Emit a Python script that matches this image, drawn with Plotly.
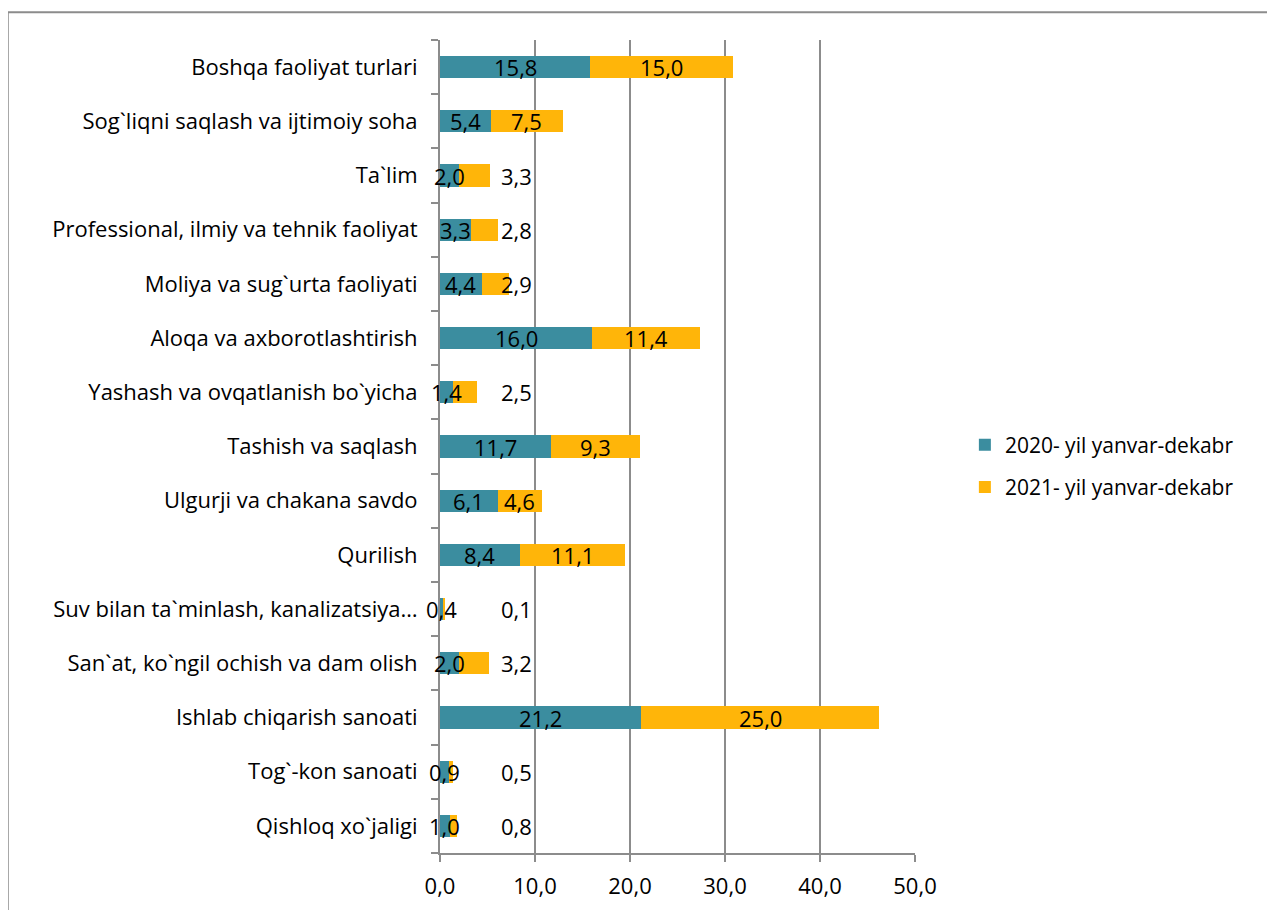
import plotly.graph_objects as go

# sectors, bottom to top as drawn
sectors = [
    "Qishloq xo`jaligi",
    "Tog`-kon sanoati",
    "Ishlab chiqarish sanoati",
    "San`at, ko`ngil ochish va dam olish",
    "Suv bilan ta`minlash, kanalizatsiya…",
    "Qurilish",
    "Ulgurji va chakana savdo",
    "Tashish va saqlash",
    "Yashash va ovqatlanish bo`yicha",
    "Aloqa va axborotlashtirish",
    "Moliya va sug`urta faoliyati",
    "Professional, ilmiy va tehnik faoliyat",
    "Ta`lim",
    "Sog`liqni saqlash va ijtimoiy soha",
    "Boshqa faoliyat turlari",
]
y2020 = [1.0, 0.9, 21.2, 2.0, 0.4, 8.4, 6.1, 11.7, 1.4, 16.0, 4.4, 3.3, 2.0, 5.4, 15.8]
y2021 = [0.8, 0.5, 25.0, 3.2, 0.1, 11.1, 4.6, 9.3, 2.5, 11.4, 2.9, 2.8, 3.3, 7.5, 15.0]

name2020 = "2020- yil yanvar-dekabr"
name2021 = "2021- yil yanvar-dekabr"
teal = "#3b8d9f"
gold = "#ffb509"
grey = "#8c8c8c"
font = "Open Sans, sans-serif"
fsize = 22

fig = go.Figure()
fig.add_trace(go.Bar(y=sectors, x=y2020, name=name2020, orientation="h",
                     marker=dict(color=teal, line=dict(width=0)), legendgroup="a"))
fig.add_trace(go.Bar(y=sectors, x=y2021, name=name2021, orientation="h",
                     marker=dict(color=gold, line=dict(width=0)), legendgroup="b"))

def fmt(v):
    return f"{v:.1f}".replace(".", ",")

# data labels (small 2021 ones pushed out to the right like the original)
for s, a, b in zip(sectors, y2020, y2021):
    fig.add_annotation(x=a / 2, y=s, text=fmt(a), showarrow=False,
                       font=dict(size=fsize, color="black", family=font))
    fig.add_annotation(x=max(a + b / 2, 8.0), y=s, text=fmt(b), showarrow=False,
                       font=dict(size=fsize, color="black", family=font))

# the page body adds 8px, so margins are shifted by that
fig.update_layout(
    width=1275, height=910,
    barmode="stack", bargap=0.59,
    margin=dict(l=432, r=368, t=32, b=65),
    plot_bgcolor="white", paper_bgcolor="white",
    font=dict(family=font, size=fsize, color="black"),
    legend=dict(x=1.105, y=0.476, xanchor="left", yanchor="middle",
                traceorder="grouped", tracegroupgap=12,
                font=dict(size=fsize - 1)),
    shapes=[dict(type="rect", xref="paper", yref="paper",
                 x0=-0.91, x1=1.745, y0=-0.1, y1=1.034,
                 line=dict(color=grey, width=2))],
)
fig.update_xaxes(range=[0, 50], dtick=10, tickformat=".1f",
                 showgrid=True, gridcolor=grey, gridwidth=2,
                 showline=True, linecolor=grey, linewidth=2,
                 ticks="outside", ticklen=7, tickcolor=grey, tickwidth=2,
                 ticklabelstandoff=6,
                 zeroline=False, tickfont=dict(size=fsize))
fig.update_yaxes(showline=True, linecolor=grey, linewidth=2,
                 ticks="outside", ticklen=7, tickcolor=grey, tickwidth=2,
                 tickson="boundaries", ticklabelstandoff=16,
                 showgrid=False, tickfont=dict(size=fsize))
fig.update_layout(separators=",.")

fig.write_html("out.html")
